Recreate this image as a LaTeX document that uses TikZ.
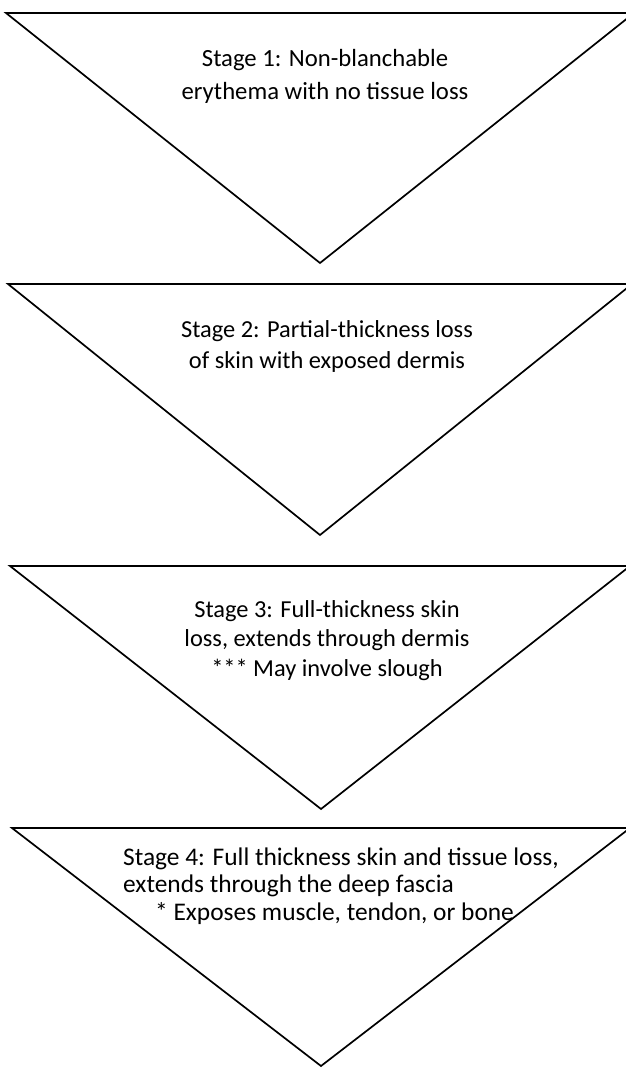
\documentclass[tikz,border=0pt]{standalone}
\usepackage{fontspec}
\setmainfont{Carlito}
\usepackage{tikz}

\begin{document}
\begin{tikzpicture}[
  x=1pt, y=-1pt,
  tri/.style={draw, line width=1.7pt, line join=miter},
  stage/.style={align=center, inner sep=0pt, anchor=base},
  stagewide/.style={align=left, inner sep=0pt, anchor=base west}]
  \useasboundingbox (0,0) rectangle (626,1068);
  \clip (0,0) rectangle (626,1068);
  % four inverted triangles, one per stage
  \draw[tri] (6,13) -- (634,13) -- (320,263) -- cycle;
  \draw[tri] (8,284) -- (632,284) -- (320,535) -- cycle;
  \draw[tri] (10,566) -- (630,566) -- (321,809) -- cycle;
  \draw[tri] (12,828) -- (630,828) -- (321,1066) -- cycle;
  % labels, placed by the baseline of their last line
  \node[stage, font=\fontsize{24.7}{33}\selectfont] (stage1) at (325,99)
       {Stage 1: Non-blanchable\\erythema with no tissue loss};
  \node[stage, font=\fontsize{24.4}{31}\selectfont] (stage2) at (327,368)
       {Stage 2: Partial-thickness loss\\of skin with exposed dermis};
  \node[stage, font=\fontsize{24.4}{29.5}\selectfont] (stage3) at (327,676)
       {Stage 3: Full-thickness skin\\loss, extends through dermis\\*** May involve slough};
  \node[stagewide, font=\fontsize{25.4}{27.5}\selectfont] (stage4) at (123,920)
       {Stage 4: Full thickness skin and tissue loss,\\extends through the deep fascia\\\hspace*{32pt}* Exposes muscle, tendon, or bone};
\end{tikzpicture}
\end{document}
